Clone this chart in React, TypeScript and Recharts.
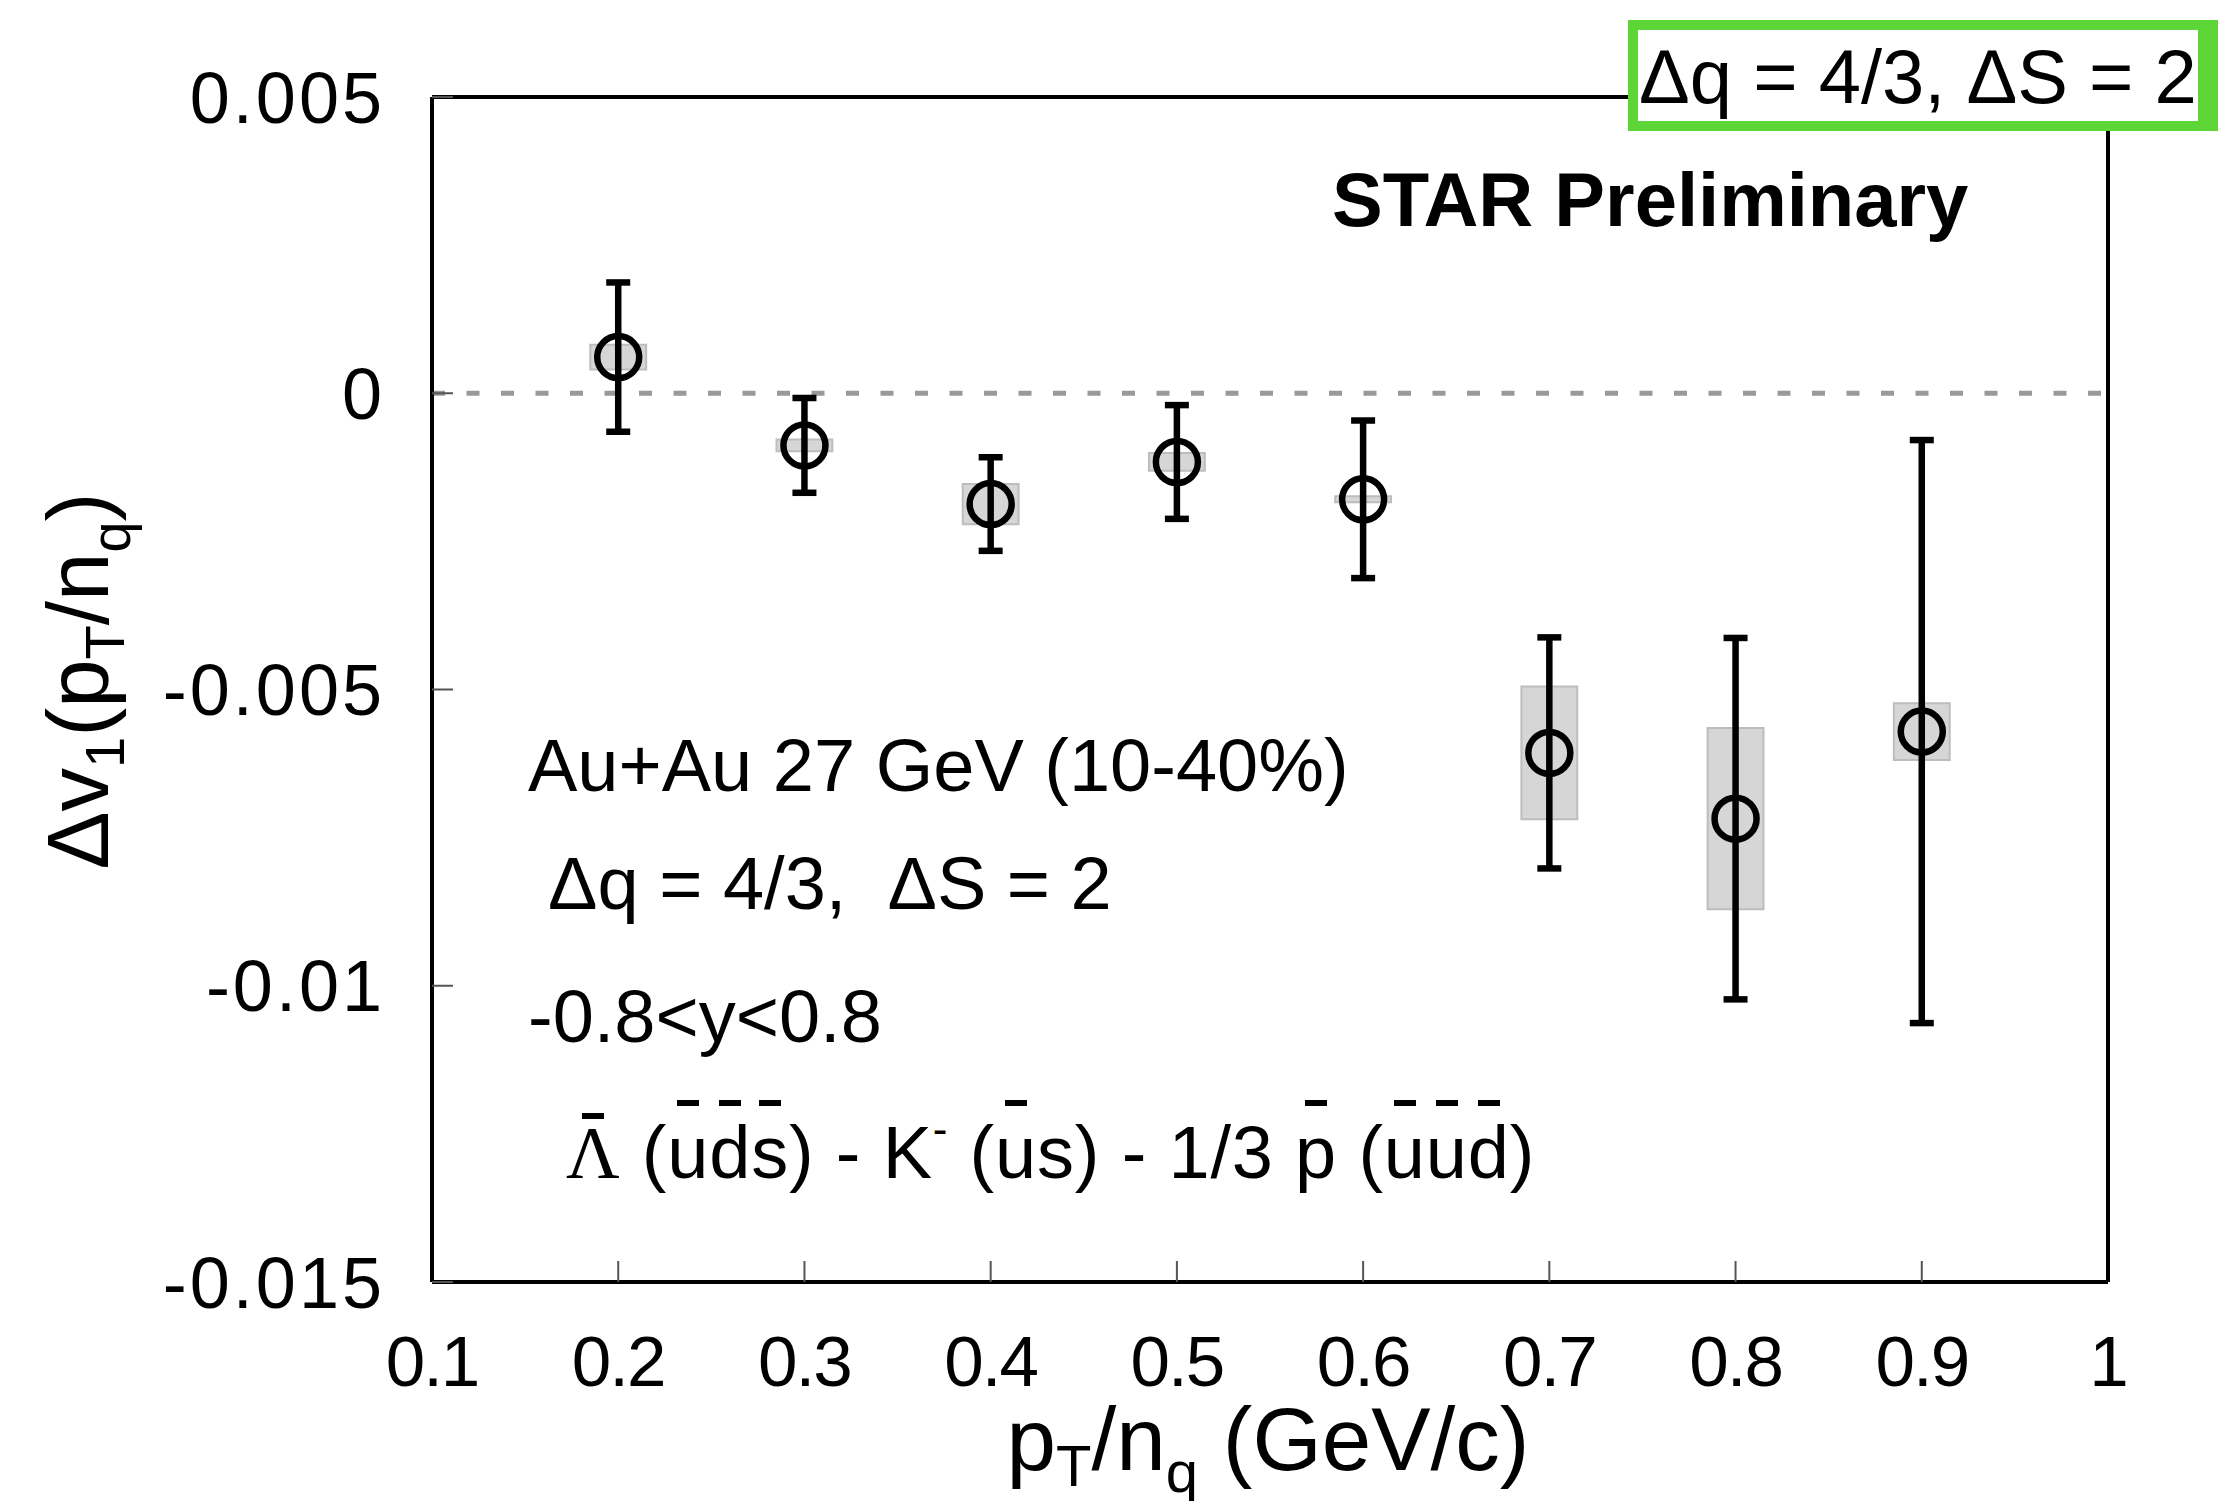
import React from "react";
import { ComposedChart, Scatter, XAxis, YAxis, ErrorBar, ReferenceLine, ReferenceArea } from "recharts";

// pT/nq bins and the measured Δv1 with stat / sys uncertainties
const ptNq = [0.2, 0.3, 0.4, 0.5, 0.6, 0.7, 0.8, 0.9];
const dv1 = [0.00061, -0.00088, -0.00187, -0.00116, -0.00179, -0.00607, -0.00718, -0.00571];
const statErr = [0.00126, 0.0008, 0.00079, 0.00096, 0.00133, 0.00195, 0.00305, 0.00492];
const sysErr = [0.00021, 0.0001, 0.00034, 0.00015, 0.00005, 0.00112, 0.00153, 0.00048];
const sysHalfWidth = 0.015;

const xTicks = [0.1, 0.2, 0.3, 0.4, 0.5, 0.6, 0.7, 0.8, 0.9, 1];
const yTicks = [-0.015, -0.01, -0.005, 0, 0.005];

const FONT = "'Liberation Sans', Arial, Helvetica, sans-serif";
const SERIF = "'Liberation Serif', 'Times New Roman', serif";
const W = 2238;
const H = 1501;

const points = ptNq.map((x, i) => ({ x, y: dv1[i], err: statErr[i] }));

const OpenCircle = (props: any) => {
  const { cx, cy } = props;
  if (cx == null || cy == null) return null;
  return <circle cx={cx} cy={cy} r={21} fill="none" stroke="#000" strokeWidth={6.5} />;
};

const fmtX = (v: number) => String(Math.round(v * 10) / 10);
const fmtY = (v: number) => (v === 0 ? "0" : String(Math.round(v * 1000) / 1000));

// a letter with a short bar drawn above it (anti-quark notation)
const Bar = ({ ch, top = -16, serif = false }: { ch: string; top?: number; serif?: boolean }) => (
  <span style={{ position: "relative", display: "inline-block", fontFamily: serif ? SERIF : undefined }}>
    {ch}
    <span
      style={{
        position: "absolute",
        left: "50%",
        marginLeft: -11,
        top,
        width: 22,
        height: 6,
        background: "#000",
      }}
    />
  </span>
);

export default function App() {
  return (
    <div style={{ position: "absolute", left: 0, top: 0, width: W, height: H, background: "#fff" }}>
      <ComposedChart
        width={W}
        height={H}
        margin={{ top: 96, right: 129, bottom: 0, left: 0 }}
        style={{ position: "absolute", left: 0, top: 0 }}
      >
        <XAxis
          dataKey="x"
          type="number"
          domain={[0.1, 1]}
          ticks={xTicks}
          tickFormatter={fmtX}
          height={219}
          tickSize={-21}
          tickMargin={75}
          axisLine={{ stroke: "#000", strokeWidth: 4 }}
          tickLine={{ stroke: "#555", strokeWidth: 2 }}
          tick={{ fontSize: 71, fill: "#000", fontFamily: FONT, letterSpacing: -2 }}
          interval={0}
        />
        <XAxis
          xAxisId="top"
          orientation="top"
          type="number"
          domain={[0.1, 1]}
          ticks={xTicks}
          tickFormatter={() => ""}
          height={1}
          tickSize={-21}
          axisLine={{ stroke: "#000", strokeWidth: 4 }}
          tickLine={{ stroke: "#555", strokeWidth: 2 }}
          interval={0}
        />
        <YAxis
          dataKey="y"
          type="number"
          domain={[-0.015, 0.005]}
          ticks={yTicks}
          tickFormatter={fmtY}
          width={432}
          tickSize={-21}
          tickMargin={68}
          axisLine={{ stroke: "#000", strokeWidth: 4 }}
          tickLine={{ stroke: "#555", strokeWidth: 2 }}
          tick={{ fontSize: 72, fill: "#000", fontFamily: FONT, letterSpacing: 3 }}
          interval={0}
        />
        <YAxis
          yAxisId="right"
          orientation="right"
          type="number"
          domain={[-0.015, 0.005]}
          ticks={yTicks}
          tickFormatter={() => ""}
          width={1}
          tickSize={-21}
          axisLine={{ stroke: "#000", strokeWidth: 4 }}
          tickLine={{ stroke: "#555", strokeWidth: 2 }}
          interval={0}
        />

        {ptNq.map((x, i) => (
          <ReferenceArea
            key={"sys" + i}
            x1={x - sysHalfWidth}
            x2={x + sysHalfWidth}
            y1={dv1[i] - sysErr[i]}
            y2={dv1[i] + sysErr[i]}
            fill="#d6d6d6"
            fillOpacity={1}
            stroke="#bdbdbd"
            strokeWidth={2}
            ifOverflow="visible"
          />
        ))}

        <ReferenceLine y={0} stroke="#999" strokeWidth={5} strokeDasharray="13 21.5" />

        <Scatter data={points} shape={OpenCircle} isAnimationActive={false}>
          <ErrorBar dataKey="err" direction="y" width={12} stroke="#000" strokeWidth={6.5} />
        </Scatter>
      </ComposedChart>

      <svg
        width={W}
        height={H}
        style={{ position: "absolute", left: 0, top: 0, pointerEvents: "none" }}
        fontFamily={FONT}
      >
        {/* top-right tag */}
        <rect x={1633} y={25} width={580} height={101} fill="#fff" stroke="#5cd636" strokeWidth={10} />
        <rect x={2198} y={20} width={20} height={111} fill="#5cd636" />
        <text x={1639} y={103} fontSize={76} fill="#000">
          Δq = 4/3, ΔS = 2
        </text>

        <text x={1332} y={226} fontSize={76} fontWeight="bold" fill="#000">
          STAR Preliminary
        </text>

        <text x={528} y={791} fontSize={74} fill="#000">
          Au+Au 27 GeV (10-40%)
        </text>
        <text x={548} y={909} fontSize={74} fill="#000">
          Δq = 4/3,{"\u00a0\u00a0"}ΔS = 2
        </text>
        <text x={528} y={1042} fontSize={74} fill="#000">
          -0.8&lt;y&lt;0.8
        </text>

        {/* axis titles */}
        <text x={1268} y={1470} fontSize={89} fill="#000" textAnchor="middle">
          p<tspan fontSize={58} dy={16}>T</tspan>
          <tspan dy={-16}>/n</tspan>
          <tspan fontSize={58} dy={22}>q</tspan>
          <tspan dy={-22}> (GeV/c)</tspan>
        </text>
        <text transform="translate(108, 681) rotate(-90)" fontSize={87} fill="#000" textAnchor="middle">
          Δv<tspan fontSize={56} dy={16}>1</tspan>
          <tspan dy={-16}>(p</tspan>
          <tspan fontSize={56} dy={16}>T</tspan>
          <tspan dy={-16}>/n</tspan>
          <tspan fontSize={56} dy={22}>q</tspan>
          <tspan dy={-22}>)</tspan>
        </text>
      </svg>

      {/* quark content line, bars over anti-quarks */}
      <div
        style={{
          position: "absolute",
          left: 566,
          top: 1116,
          fontFamily: FONT,
          fontSize: 74,
          lineHeight: "74px",
          letterSpacing: 0.8,
          whiteSpace: "pre",
          color: "#000",
        }}
      >
        <Bar ch="Λ" top={-3} serif />
        {" ("}
        <Bar ch="u" />
        <Bar ch="d" />
        <Bar ch="s" />
        {") - K"}
        <span style={{ position: "relative", top: -34, fontSize: 44 }}>-</span>
        {" ("}
        <Bar ch="u" />
        {"s) - 1/3 "}
        <Bar ch="p" />
        {" ("}
        <Bar ch="u" />
        <Bar ch="u" />
        <Bar ch="d" />
        {")"}
      </div>
    </div>
  );
}
